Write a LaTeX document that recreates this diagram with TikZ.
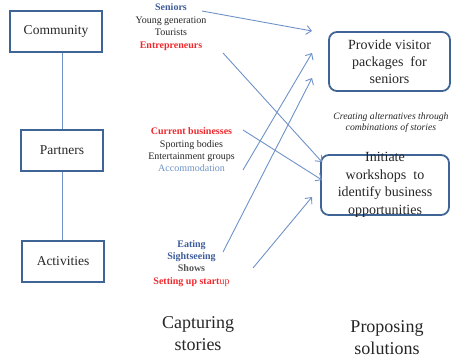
\documentclass[tikz,border=0pt]{standalone}
\usepackage{fontspec}
\setmainfont{Liberation Serif}
\usepackage{xcolor}
\usetikzlibrary{arrows,arrows.meta}

\definecolor{boxblue}{HTML}{3F6596}
\definecolor{linkblue}{HTML}{6E92C8}
\definecolor{storyblue}{HTML}{3D5C99}
\definecolor{storyred}{HTML}{F0282D}
\definecolor{storygray}{HTML}{555555}
\definecolor{storyink}{HTML}{262626}

\begin{document}
\begin{tikzpicture}[x=1pt,y=-1pt,
  level/.style={draw=boxblue, line width=2pt, minimum height=41pt, text=storyink, font=\fontsize{13.5}{16}\selectfont},
  solution/.style={draw=boxblue, line width=1.8pt, rounded corners=8pt, align=center, inner sep=1pt, text=storyink, font=\fontsize{14}{17}\selectfont},
  story/.style={text height=7pt, text depth=2pt, inner sep=0pt, text=storyink, font=\fontsize{10}{12}\selectfont},
  link/.style={draw=linkblue, line width=0.9pt},
  flow/.style={link, -{Straight Barb[length=5pt,width=9pt]}},
  heading/.style={align=center, text=storyink, font=\fontsize{18}{22}\selectfont}]
\useasboundingbox (0,0) rectangle (451,360);

\node[level, minimum width=92pt] (community) at (56,31.5) {Community};
\node[level, minimum width=82pt] (partners) at (62,150) {Partners};
\node[level, minimum width=82pt] (activities) at (63,261.5) {Activities};

\draw[link] (partners.north |- community.south) -- (partners.north);
\draw[link] (partners.south) -- (partners.south |- activities.north);

\node[story, text=storyblue] (seniors) at (171,8) {\textbf{Seniors}};
\node[story] (young) at (171,20.5) {Young generation};
\node[story] (tourists) at (171,33) {Tourists};
\node[story, text=storyred] (entrepreneurs) at (171,45.5) {\textbf{Entrepreneurs}};

\node[story, text=storyred] (current) at (191.5,132) {\textbf{Current businesses}};
\node[story] (sporting) at (191.5,144.5) {Sporting bodies};
\node[story] (entertainment) at (191.5,157) {Entertainment groups};
\node[story, text=linkblue] (accommodation) at (191.5,169) {Accommodation};

\node[story, text=storyblue] (eating) at (191.5,244.5) {\textbf{Eating}};
\node[story, text=storyblue] (sightseeing) at (191.5,257) {\textbf{Sightseeing}};
\node[story, text=storygray] (shows) at (191.5,269) {\textbf{Shows}};
\node[story, text=storyred] (startup) at (191.5,282) {\textbf{Setting up start}up};

\node[solution, minimum width=121pt, minimum height=59pt] (packages) at (389.5,61.5) {Provide visitor\\packages\ \ for\\seniors};
\node[solution, minimum width=128pt, minimum height=60pt,
  label={[align=center, text=storyink, font=\fontsize{14}{17.5}\selectfont]center:Initiate\\workshops\ \ to\\identify business\\opportunities}] (workshops) at (385,185) {};

\node[align=center, text=storyink, font=\fontsize{9.7}{11.5}\selectfont\itshape] (note) at (391,122.5) {Creating alternatives through\\combinations of stories};

\node[heading] (capturing) at (198,334) {Capturing\\stories};
\node[heading] (proposing) at (387,337.5) {Proposing\\solutions};

% free ends of the story arrows
\coordinate (seniors-out) at (202,11);
\coordinate (entrepreneurs-out) at (223,53);
\coordinate (current-out) at (243,130);
\coordinate (accommodation-out) at (243,170);
\coordinate (sightseeing-out) at (223,252);
\coordinate (startup-out) at (253,268);
\coordinate (packages-in1) at (312,31);
\coordinate (packages-in2) at (312,53);
\coordinate (packages-in3) at (312,78);
\coordinate (workshops-in1) at (322,162);
\coordinate (workshops-in2) at (322,180);
\coordinate (workshops-in3) at (312,197);

\draw[flow] (seniors-out) -- (packages-in1);
\draw[flow] (entrepreneurs-out) -- (workshops-in1);
\draw[flow] (current-out) -- (workshops-in2);
\draw[flow] (accommodation-out) -- (packages-in2);
\draw[flow] (sightseeing-out) -- (packages-in3);
\draw[flow] (startup-out) -- (workshops-in3);
\end{tikzpicture}
\end{document}
